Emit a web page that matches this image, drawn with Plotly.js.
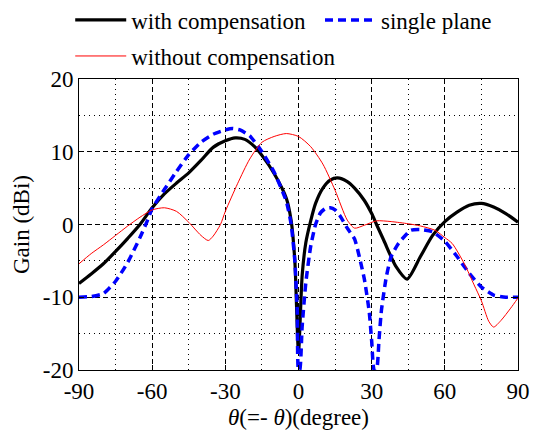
<!DOCTYPE html>
<html>
<head>
<meta charset="utf-8">
<script src="https://cdn.plot.ly/plotly-3.0.1.min.js"></script>
<style>html,body{margin:0;padding:0;background:#fff;}#chart{width:541px;height:433px;}</style>
</head>
<body>
<div id="chart"></div>
<script>
// with compensation (black)
const withX = [-90,-85,-80,-75,-70,-65,-60,-55,-50,-45,-40,-35,-30,-26,-22,-18,-15,-10,-5,-3,-1.5,0,1.5,3,5,7,10,13,16,20,23,27,30,32,35,40,44.5,50,55,60,65,70,75,80,85,90];
const withY = [-8.1,-6.8,-5.4,-3.7,-1.9,0.0,2.3,4.2,5.7,7.1,8.8,10.6,11.5,11.9,11.7,10.7,9.5,7.0,3.6,0.5,-5.0,-17.5,-7.0,-2.5,0.5,2.9,5.0,6.1,6.4,5.9,5.0,3.3,1.5,0.0,-2.2,-5.8,-7.5,-4.4,-1.5,0.4,1.7,2.65,2.9,2.4,1.5,0.3];

// single plane (blue dashed)
const singleX = [-90,-85,-80,-75,-70,-65,-62,-60,-55,-50,-45,-40,-35,-30,-27,-24,-20,-15,-10,-5,-3,-1.5,-0.5,0,0.5,1.5,3,5,7,9,11,13,15,17,20,23,25,27,29,30,31,32,33,34,36,38,41,46,50,55,60,65,70,75,80,85,90];
const singleY = [-10,-9.9,-9.5,-7.8,-5.2,-1.8,0.5,2.2,4.8,7.3,9.6,11.3,12.4,13.0,13.2,13.0,12.2,10.0,7.2,3.2,0.0,-5.0,-12.0,-20,-20,-14,-8,-3,0.0,1.6,2.2,2.3,2.0,1.2,-0.5,-2.0,-4.5,-7.5,-12.0,-16.0,-20,-20,-15.9,-11.8,-7.2,-4.4,-2.6,-0.8,-0.7,-1.0,-2.3,-4.4,-6.7,-8.6,-9.7,-10.0,-10.0];

// without compensation (red)
const withoutX = [-90,-85,-80,-75,-70,-65,-60,-55,-50,-45,-40,-37,-35,-32,-30,-25,-20,-15,-10,-5,0,5,10,15,20,23,27,32,38,45,50,56,60,63,68,72,75,78,80,83,87,90];
const withoutY = [-5.4,-4.0,-2.8,-1.5,-0.2,1.0,2.0,2.3,1.8,0.3,-1.5,-2.2,-1.6,0.0,1.8,5.6,9.0,11.3,12.1,12.5,12.1,10.7,8.3,4.7,0.6,-0.5,-0.1,0.5,0.4,0.1,-0.2,-0.8,-1.8,-2.6,-5.4,-8.3,-10.5,-13.3,-14.1,-13.2,-11.5,-10.1];

const xTickVals = [-90,-60,-30,0,30,60,90];
const xTickText = ["-90","-60","-30","0","30","60","90"];
const xMinorVals = [-75,-45,-15,15,45,75];
const yTickVals = [-20,-10,0,10,20];
const yTickText = ["-20","-10","0","10","20"];
const yMinorVals = [-15,-5,5,15];

const FONT = "Liberation Serif";

function mkFont() { return {family: FONT, size: 23, color: "#000000"}; }
function mkLegend(x, y) {
  return {
    orientation: "h", bgcolor: "rgba(0,0,0,0)", borderwidth: 0, itemwidth: 51,
    font: mkFont(), x: x, y: y, yanchor: "middle", xanchor: "left"
  };
}
function mkAxis() {
  return {
    showline: true, linecolor: "#000", linewidth: 1, mirror: "ticks",
    ticks: "inside", ticklen: 5, tickcolor: "#000",
    showgrid: true, gridcolor: "#000", gridwidth: 1, griddash: "5px,3px",
    zeroline: false, tickfont: mkFont()
  };
}

const traces = [
  {x: withX, y: withY, name: "with compensation", type: "scatter", mode: "lines",
   line: {color: "#000000", width: 3.2, shape: "spline", smoothing: 0.7}, legend: "legend"},
  {x: singleX, y: singleY, name: "single plane", type: "scatter", mode: "lines",
   line: {color: "#0000ff", width: 3.5, dash: "8px,5px", shape: "spline", smoothing: 0.5}, legend: "legend2"},
  {x: withoutX, y: withoutY, name: "without compensation", type: "scatter", mode: "lines",
   line: {color: "#ff0000", width: 1, shape: "spline", smoothing: 0.7}, legend: "legend3"}
];

const layout = {
  width: 541, height: 433,
  margin: {l: 79, r: 23, t: 79, b: 63, autoexpand: false},
  paper_bgcolor: "#fff", plot_bgcolor: "#fff",
  font: mkFont(),
  showlegend: true,
  legend: mkLegend(-0.02, 1.203),
  legend2: mkLegend(0.549, 1.203),
  legend3: mkLegend(-0.02, 1.079),
  xaxis: Object.assign(mkAxis(), {
    range: [-90, 90], tickmode: "array", tickvals: xTickVals, ticktext: xTickText,
    minor: {tickmode: "array", tickvals: xMinorVals, showgrid: true, gridcolor: "#000", gridwidth: 1, griddash: "1px,4px", ticks: ""},
    title: {text: "<i>θ</i>(=- <i>θ</i>)(degree)", font: mkFont(), standoff: 6}
  }),
  yaxis: Object.assign(mkAxis(), {
    range: [-20, 20], tickmode: "array", tickvals: yTickVals, ticktext: yTickText,
    minor: {tickmode: "array", tickvals: yMinorVals, showgrid: true, gridcolor: "#000", gridwidth: 1, griddash: "1px,4px", ticks: ""},
    title: {text: "Gain (dBi)", font: mkFont(), standoff: 6}
  })
};

Plotly.newPlot("chart", traces, layout, {displayModeBar: false, staticPlot: true});
</script>
</body>
</html>
